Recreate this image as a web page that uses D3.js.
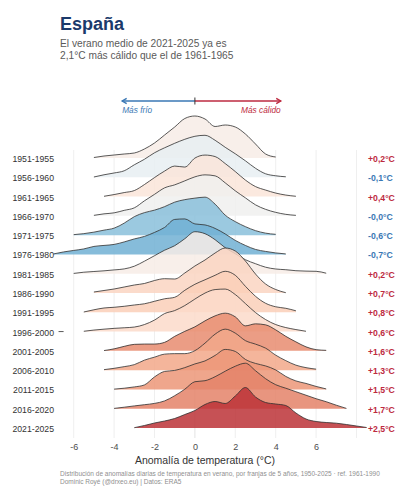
<!DOCTYPE html>
<html><head><meta charset="utf-8">
<script src="https://cdn.jsdelivr.net/npm/d3@7"></script>
<style>
html,body{margin:0;padding:0;background:#fff;}
svg{display:block;font-family:"Liberation Sans",Arial,sans-serif;}
</style></head><body>
<svg id="chart" width="406" height="500"></svg>
<script>
// ---- data ----
const periods = ["1951-1955","1956-1960","1961-1965","1966-1970","1971-1975","1976-1980","1981-1985",
  "1986-1990","1991-1995","1996-2000","2001-2005","2006-2010","2011-2015","2016-2020","2021-2025"];
const means = [0.2,-0.1,0.4,-0.02,-0.6,-0.7,0.2,0.7,0.8,0.6,1.6,1.3,1.5,1.7,2.5];
// density curves (arbitrary units), sampled every 0.5 °C from densStart
const densStart = [-5,-5,-4.5,-5,-6,-7,-6,-5,-5.5,-5.5,-4.5,-4.5,-4,-4,-3];
const densStep = 0.5;
const dens1951 = [0.5,2,3,4,5,9,15,23,31,39.5,42,39,31.5,33,31,24,14,4,1];
const dens1956 = [0.3,2.5,4.3,6.5,12.5,18,24.5,29.5,34,38,41,42,37,30,23.5,16.5,9,3.5,1.5,0.5];
const dens1961 = [0.3,2,4,6,12,19,25.5,30.5,29.5,38.5,41.5,40,33,25,16.5,10,6.5,3.5,1.5,0.3];
const dens1966 = [0.5,2,3,5.5,8,15,21.5,28,31,35,39,41,40,33,25,18,11,6.5,3.5,1.5,0.5];
const dens1971 = [0.5,1.5,3,5,7,12,18.5,22.5,25,28.5,33,35.5,37,38,31,20,13.5,8.5,4.5,2,0.8];
const dens1976 = [0.5,2.5,4,5.5,8,9,10,12.5,15.5,18,22,27,35,35.5,30.5,29.5,26,20.5,14,9,5,3,1.5,0.5];
const dens1981 = [0.3,1.5,2.2,2.9,3.8,4.8,7.5,12.5,18,23.5,28,35,42,40,34,26,20,14,10,6.5,4.7,4,3,2.6,2.4,0.5];
const dens1986 = [1,2.5,4,6,8,9.5,12.5,14.3,14,20,27,33,40,45,42,32,19,9,3.5,0.3];
const dens1991 = [0.3,2.5,4.3,5,6,7.3,8.5,11,13.5,15,22,28,32.5,37,41,37,26,16,9,5.5,4,1.5];
const dens1996 = [0.3,1.5,2.4,3.2,3.8,4.5,7,11.5,18,21,26,32.5,38.5,42,42.5,37,28,19,12,7,4,2,0.3];
const dens2001 = [0.3,2,4.5,6.5,6.8,6.8,8.5,14.5,19.5,24,30,35,37.7,34,25,27,26,21,14.5,9,4,1.2,0.5];
const dens2006 = [0.5,1.8,3.5,5.5,10,13,16,16.5,16.5,19.5,27,36,41,37,29.5,26,22,15,9.5,5,2.5,1];
const dens2011 = [0.3,1.2,2.5,4.5,12.5,18,19,21.8,25.5,28.5,34,40,38,30,26,23.5,19.5,13,8.5,6,3,0.5];
const dens2016 = [0.3,1.5,2.8,4,5.3,7.8,13,19.5,27,28,32,37.5,42.5,45.5,38,30,24,20.5,17,13.5,10,7,3.5,0.3];
const dens2021 = [0.3,2.5,5,7,9.5,13.5,17.5,23.5,26.5,24.5,32,40.5,31,25.5,24,22.5,15,9,6.5,5.5,4.8,3.5,2,0.5];
const densValues = [dens1951,dens1956,dens1961,dens1966,dens1971,dens1976,dens1981,dens1986,
  dens1991,dens1996,dens2001,dens2006,dens2011,dens2016,dens2021];
const strayPeriod = "1996-2000", strayFrom = -6.75, strayTo = -6.5;
const xTicks = [-6,-4,-2,0,2,4,6];
const gridTicks = [-6,-4,-2,0,2,4,6,8];

// ---- chart ----
const svg = d3.select("#chart");
const x = d3.scaleLinear().domain([-7, 8]).range([53.5, 356.5]);
const y = d3.scalePoint().domain(periods).range([158, 428]);
const hScale = d3.scaleLinear().domain([0, 50]).range([0, 50]);
const color = d3.scaleDiverging([-1.45, 0, 3.4], t => d3.interpolateRdBu(1 - t));
const blue = "#3a77b4", red = "#bd2a40";

// title block
svg.append("text").attr("x", 60).attr("y", 30).text("España")
  .attr("font-size", 18).attr("font-weight", "bold").attr("fill", "#1b3a6b");
const sub = ["El verano medio de 2021-2025 ya es", "2,1°C más cálido que el de 1961-1965"];
sub.forEach((s, i) => svg.append("text").attr("x", 60).attr("y", 47 + i * 11.7).text(s)
  .attr("font-size", 10.2).attr("fill", "#5a5a5a"));

// grid
svg.append("g").selectAll("line").data(gridTicks).join("line")
  .attr("x1", d => x(d)).attr("x2", d => x(d)).attr("y1", 150).attr("y2", 438)
  .attr("stroke", d => d === 0 ? "#dcdcdc" : "#ebebeb").attr("stroke-width", 0.8);

// legend arrow
const ay = 101;
const lg = svg.append("g");
lg.append("line").attr("x1", x(0)).attr("x2", x(-3.6)).attr("y1", ay).attr("y2", ay).attr("stroke", blue).attr("stroke-width", 1.4);
lg.append("line").attr("x1", x(0)).attr("x2", x(4.25)).attr("y1", ay).attr("y2", ay).attr("stroke", red).attr("stroke-width", 1.4);
lg.append("path").attr("d", `M${x(-3.6)+4.5},${ay-2.6}L${x(-3.6)},${ay}L${x(-3.6)+4.5},${ay+2.6}`)
  .attr("fill", "none").attr("stroke", blue).attr("stroke-width", 1.4);
lg.append("path").attr("d", `M${x(4.25)-4.5},${ay-2.6}L${x(4.25)},${ay}L${x(4.25)-4.5},${ay+2.6}`)
  .attr("fill", "none").attr("stroke", red).attr("stroke-width", 1.4);
lg.append("line").attr("x1", x(0)).attr("x2", x(0)).attr("y1", ay - 3.5).attr("y2", ay + 3.5).attr("stroke", "#333").attr("stroke-width", 1);
lg.append("text").attr("x", x(-3.6)).attr("y", ay + 11.5).text("Más frío").attr("font-size", 8.3)
  .attr("font-style", "italic").attr("fill", blue);
lg.append("text").attr("x", x(4.25)).attr("y", ay + 11.5).text("Más cálido").attr("font-size", 8.3)
  .attr("font-style", "italic").attr("fill", red).attr("text-anchor", "end");

// ridges
const g = svg.append("g");
periods.forEach((p, i) => {
  const pts = densValues[i].map((v, j) => ({x: densStart[i] + j * densStep, v}));
  const base = y(p);
  const area = d3.area().curve(d3.curveMonotoneX).x(d => x(d.x)).y0(base).y1(d => base - hScale(d.v));
  const line = d3.line().curve(d3.curveMonotoneX).x(d => x(d.x)).y(d => base - hScale(d.v));
  g.append("path").datum(pts).attr("d", area).attr("fill", color(means[i])).attr("fill-opacity", 0.85);
  g.append("path").datum(pts).attr("d", line).attr("fill", "none").attr("stroke", "#2e2e2e").attr("stroke-width", 0.8);
  if (p === strayPeriod) {
    g.append("line").attr("x1", x(strayFrom)).attr("x2", x(strayTo)).attr("y1", base).attr("y2", base)
      .attr("stroke", "#2e2e2e").attr("stroke-width", 0.8);
  }
});

// period labels
svg.append("g").selectAll("text").data(periods).join("text")
  .attr("x", 54).attr("y", d => y(d) + 1).attr("text-anchor", "end").attr("dominant-baseline", "central")
  .attr("font-size", 8.7).attr("fill", "#333").text(d => d);

// mean labels
const fmt = v => (v < 0 ? "-" : "+") + Math.abs(v).toFixed(1).replace(".", ",") + "°C";
svg.append("g").selectAll("text").data(periods).join("text")
  .attr("x", 368).attr("y", (d) => y(d) + 1).attr("dominant-baseline", "central")
  .attr("font-size", 8.7).attr("font-weight", "bold")
  .attr("fill", (d, i) => means[i] < 0 ? blue : red).text((d, i) => fmt(means[i]));

// x axis
const ax = svg.append("g").attr("transform", "translate(0,441)")
  .call(d3.axisBottom(x).tickValues(xTicks).tickSize(0).tickPadding(3).tickFormat(d => String(d)));
ax.select(".domain").remove();
ax.selectAll("text").attr("font-size", 9).attr("fill", "#4d4d4d").attr("font-family", "Liberation Sans, Arial, sans-serif");
svg.append("text").attr("x", (x.range()[0] + x.range()[1]) / 2).attr("y", 464).attr("text-anchor", "middle")
  .attr("font-size", 10.5).attr("fill", "#333").text("Anomalía de temperatura (°C)");

// caption
const cap = ["Distribución de anomalías diarias de temperatura en verano, por franjas de 5 años, 1950-2025 · ref. 1961-1990",
  "Dominic Royé (@drxeo.eu) | Datos: ERA5"];
cap.forEach((s, i) => svg.append("text").attr("x", 60).attr("y", 476 + i * 7.8).text(s)
  .attr("font-size", 6.5).attr("fill", "#8f8f8f"));
</script>
</body></html>
